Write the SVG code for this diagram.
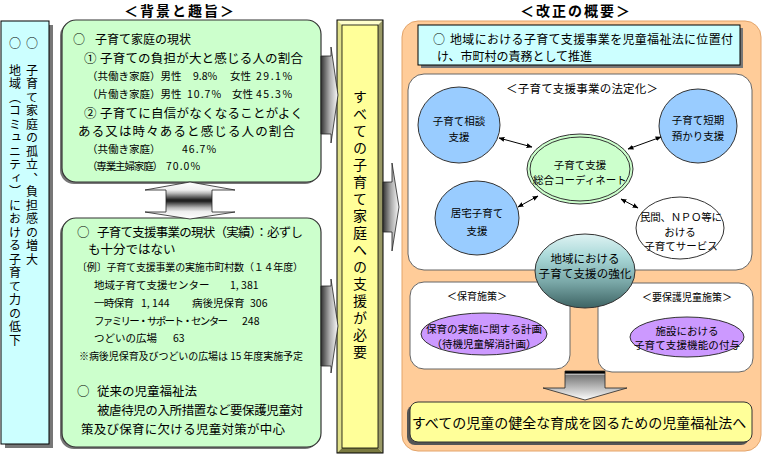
<svg xmlns="http://www.w3.org/2000/svg" width="764" height="456" viewBox="0 0 764 456">
<defs>
<style>
text{font-family:"Noto Sans CJK JP","Noto Sans CJK SC",sans-serif;fill:#000}
.m{font-size:12.5px;dominant-baseline:central}
.s{font-size:10.5px;dominant-baseline:central}
.t{font-size:10px;dominant-baseline:central}
.c{text-anchor:middle}
.hd{font-size:14px;font-weight:bold;letter-spacing:2px;dominant-baseline:central;text-anchor:middle}
.grn{fill:#ccffcc;stroke:#333;stroke-width:1.2}
.shd{fill:#777}
.blue{fill:#99ccff;stroke:#333;stroke-width:1}
.pur{fill:#cc99ff;stroke:#333;stroke-width:1}
.wp{fill:#fff;stroke:#666;stroke-width:1}
.con{stroke:#000;stroke-width:1;fill:none;marker-start:url(#ah);marker-end:url(#ah)}
.ar{stroke:#222;stroke-width:0.8}
.vt{writing-mode:vertical-rl}
</style>
<marker id="ah" viewBox="0 0 10 10" refX="9" refY="5" markerWidth="6" markerHeight="6" orient="auto-start-reverse" markerUnits="userSpaceOnUse"><path d="M0,1 L10,5 L0,9 z" fill="#000"/></marker>
<linearGradient id="hg" x1="0" y1="0" x2="1" y2="0">
<stop offset="0" stop-color="#333"/><stop offset="0.5" stop-color="#aaa"/><stop offset="1" stop-color="#fafafa"/>
</linearGradient>
<linearGradient id="vg" x1="0" y1="0" x2="0" y2="1">
<stop offset="0" stop-color="#fff"/><stop offset="0.22" stop-color="#eee"/><stop offset="0.3" stop-color="#bbb"/><stop offset="0.48" stop-color="#222"/><stop offset="0.52" stop-color="#222"/><stop offset="0.7" stop-color="#bbb"/><stop offset="0.8" stop-color="#eee"/><stop offset="1" stop-color="#fff"/>
</linearGradient>
<linearGradient id="dg" x1="0" y1="0" x2="0" y2="1">
<stop offset="0" stop-color="#000"/><stop offset="0.08" stop-color="#000"/><stop offset="0.1" stop-color="#fff"/><stop offset="0.14" stop-color="#777"/><stop offset="1" stop-color="#fff"/>
</linearGradient>
<linearGradient id="tg" x1="0" y1="0" x2="0" y2="1">
<stop offset="0" stop-color="#dff3f3"/><stop offset="0.3" stop-color="#aad9d9"/><stop offset="0.65" stop-color="#7aa8a8"/><stop offset="1" stop-color="#3d6363"/>
</linearGradient>
</defs>

<!-- headers -->
<text class="hd" x="180" y="10">＜背景と趣旨＞</text>
<text class="hd" x="576" y="10">＜改正の概要＞</text>

<!-- left column -->
<g id="left-column">
<rect x="5" y="25" width="48" height="423" class="shd"/>
<rect x="1" y="21" width="48" height="423" fill="#ccffff" stroke="#000" stroke-width="1"/>
<text class="vt" x="32" y="37" font-size="12" letter-spacing="1.5">○　子育て家庭の孤立、負担感の増大</text>
<text class="vt" x="15" y="37" font-size="12" letter-spacing="1.5">○　地域（コミュニティ）における子育て力の低下</text>
</g>

<!-- green box 1 -->
<g id="current-families">
<rect x="60" y="22" width="259" height="162" rx="14" class="shd"/>
<rect x="62" y="20" width="259" height="162" rx="14" class="grn"/>
<text x="73" y="38" font-size="12" dominant-baseline="central">○</text>
<text x="95" y="38" font-size="12" dominant-baseline="central">子育て家庭の現状</text>
<text class="m" x="84" y="57">①</text>
<text class="m" x="100" y="57" textLength="203">子育ての負担が大と感じる人の割合</text>
<text class="s" x="87" y="75">（共働き家庭）男性</text>
<text class="s" x="193" y="75">9.8%</text>
<text class="s" x="230" y="75">女性</text>
<text class="s" x="256" y="75" letter-spacing="1.5">29.1%</text>
<text class="s" x="87" y="93">（片働き家庭）男性</text>
<text class="s" x="187" y="93" letter-spacing="1">10.7%</text>
<text class="s" x="232" y="93">女性</text>
<text class="s" x="256" y="93" letter-spacing="1.5">45.3%</text>
<text class="m" x="84" y="112">②</text>
<text class="m" x="100" y="112" textLength="203">子育てに自信がなくなることがよく</text>
<text class="m" x="78" y="130" textLength="217">ある又は時々あると感じる人の割合</text>
<text class="s" x="87" y="148">（共働き家庭）</text>
<text class="s" x="182" y="148" letter-spacing="1">46.7%</text>
<text class="s" x="87" y="165" textLength="76">（専業主婦家庭）</text>
<text class="s" x="166" y="165" letter-spacing="1">70.0%</text>
</g>

<!-- green box 2 -->
<g id="support-status">
<rect x="60" y="220" width="259" height="229" rx="14" class="shd"/>
<rect x="62" y="218" width="259" height="229" rx="14" class="grn"/>
<text class="m" x="77" y="231">○</text>
<text class="m" x="97" y="231" textLength="206">子育て支援事業の現状（実績）：必ずし</text>
<text class="m" x="88" y="248">も十分ではない</text>
<text class="t" x="77" y="266" textLength="226">〔例〕子育て支援事業の実施市町村数（１４年度）</text>
<text class="s" x="94" y="284">地域子育て支援センター</text>
<text class="s" x="230" y="284">1, 381</text>
<text class="s" x="94" y="302" textLength="40">一時保育</text>
<text class="s" x="141" y="302">1, 144</text>
<text class="s" x="192" y="302">病後児保育</text>
<text class="s" x="250" y="302">306</text>
<text class="s" x="94" y="320" textLength="134">ファミリー・サポート・センター</text>
<text class="s" x="242" y="320">248</text>
<text class="s" x="94" y="337">つどいの広場</text>
<text class="s" x="173" y="337">63</text>
<text class="t" x="79" y="355" textLength="224">※病後児保育及びつどいの広場は 15 年度実施予定</text>
<text class="m" x="77" y="390">○</text>
<text class="m" x="97" y="390">従来の児童福祉法</text>
<text class="m" x="97" y="409" textLength="206">被虐待児の入所措置など要保護児童対</text>
<text class="m" x="81" y="428" textLength="204">策及び保育に欠ける児童対策が中心</text>
</g>

<!-- yellow bar -->
<g id="support-needed">
<polygon points="337,20 383,20 378,25 342,25" fill="#ffffcc"/>
<polygon points="337,20 342,25 342,448 337,453" fill="#e0e08a"/>
<polygon points="383,20 383,453 378,448 378,25" fill="#999966"/>
<polygon points="337,453 383,453 378,448 342,448" fill="#7a7a40"/>
<rect x="342" y="25" width="36" height="423" fill="#ffff99" stroke="#000" stroke-width="0.8"/>
<rect x="337" y="20" width="46" height="433" fill="none" stroke="#000" stroke-width="1"/>
<text class="vt" x="360" y="90" font-size="14" letter-spacing="3">すべての子育て家庭への支援が必要</text>
</g>

<!-- orange panel -->
<g id="reform-panel">
<rect x="402" y="21" width="359" height="430" rx="16" fill="#ffcc99" stroke="#e3a46a" stroke-width="1"/>
</g>

<g id="reform-goal">
<rect x="421" y="28" width="322" height="40" fill="#777"/>
<rect x="418" y="25" width="322" height="40" fill="#ccffff" stroke="#000" stroke-width="1"/>
<text x="433" y="38" font-size="12" dominant-baseline="central">○</text>
<text x="450" y="38" font-size="12" textLength="283" dominant-baseline="central">地域における子育て支援事業を児童福祉法に位置付</text>
<text x="437" y="55" font-size="12" dominant-baseline="central">け、市町村の責務として推進</text>
</g>

<g id="legalization-panel">
<rect x="408" y="74" width="344" height="196" rx="16" class="wp"/>
<text class="c" x="582" y="88" font-size="11.5" textLength="152" dominant-baseline="central">＜子育て支援事業の法定化＞</text>
</g>

<g id="counseling">
<ellipse cx="459" cy="125" rx="41" ry="38" class="blue"/>
<text class="s c" x="459" y="120">子育て相談</text>
<text class="s c" x="459" y="136">支援</text>
</g>
<g id="short-term">
<ellipse cx="698" cy="126" rx="39" ry="37" class="blue"/>
<text class="s c" x="698" y="119">子育て短期</text>
<text class="s c" x="698" y="135">預かり支援</text>
</g>
<g id="coordinate">
<ellipse cx="580" cy="169" rx="53" ry="35" fill="#ccffcc" stroke="#333" stroke-width="1"/>
<ellipse cx="580" cy="169" rx="50" ry="32" fill="none" stroke="#333" stroke-width="1"/>
<text class="s c" x="580" y="164" font-size="11">子育て支援</text>
<text class="s c" x="580" y="179" font-size="11">総合コーディネート</text>
</g>
<g id="home-support">
<ellipse cx="477" cy="218" rx="42" ry="37" class="blue"/>
<text class="s c" x="477" y="212" font-size="11">居宅子育て</text>
<text class="s c" x="477" y="230" font-size="11">支援</text>
</g>
<g id="private-npo">
<ellipse cx="680" cy="228" rx="44" ry="31" fill="#fff" stroke="#333" stroke-width="1"/>
<text class="s c" x="681" y="216" textLength="82">民間、ＮＰＯ等に</text>
<text class="s c" x="680" y="231">おける</text>
<text class="s c" x="681" y="245">子育てサービス</text>
</g>

<g id="childcare-panel">
<rect x="410" y="282" width="160" height="87" rx="14" class="wp"/>
<text class="t c" x="477" y="295">＜保育施策＞</text>
<ellipse cx="484" cy="334" rx="63" ry="21" class="pur"/>
<text class="s c" x="484" y="328" textLength="116">保育の実施に関する計画</text>
<text class="s c" x="484" y="343">（待機児童解消計画）</text>
</g>
<g id="protection-panel">
<rect x="598" y="283" width="155" height="89" rx="14" class="wp"/>
<text class="t c" x="687" y="296">＜要保護児童施策＞</text>
<ellipse cx="687" cy="337" rx="57" ry="20" class="pur"/>
<text class="s c" x="687" y="330">施設における</text>
<text class="s c" x="687" y="344" textLength="106">子育て支援機能の付与</text>
</g>

<g id="local-support">
<ellipse cx="585" cy="271" rx="50" ry="37" fill="url(#tg)" stroke="#333" stroke-width="1"/>
<text class="c" x="585" y="258" font-size="11.5" dominant-baseline="central">地域における</text>
<text class="c" x="585" y="273" font-size="11.5" textLength="93" dominant-baseline="central">子育て支援の強化</text>
</g>

<g id="goal">
<rect x="407" y="405" width="342" height="40" rx="8" fill="#555"/>
<rect x="410" y="402" width="342" height="40" rx="8" fill="#ffff99" stroke="#333" stroke-width="1"/>
<text class="c" x="579" y="422" font-size="14" dominant-baseline="central">すべての児童の健全な育成を図るための児童福祉法へ</text>
</g>

<!-- connectors -->
<g id="connectors">
<polygon class="ar" fill="url(#hg)" points="321,56 331,56 331,47 338,95 331,143 331,134 321,134"/>
<polygon class="ar" fill="url(#hg)" points="321,286 331,286 331,279 338,326 331,373 331,366 321,366"/>
<polygon class="ar" fill="url(#hg)" points="383,182 392,182 392,163 399,207 392,251 392,232 383,232"/>
<polygon class="ar" fill="url(#vg)" points="190,182 235,190 212,190 212,212 235,212 190,219 145,212 166,212 166,190 145,190"/>
<polygon class="ar" fill="url(#dg)" points="565,371 605,371 605,388 627,388 585,400 543,388 565,388"/>
<line class="con" x1="499" y1="138" x2="532" y2="147"/>
<line class="con" x1="628" y1="149" x2="661" y2="137"/>
<line class="con" x1="518" y1="207" x2="538" y2="196"/>
<line class="con" x1="621" y1="199" x2="638" y2="208"/>
</g>
</svg>
